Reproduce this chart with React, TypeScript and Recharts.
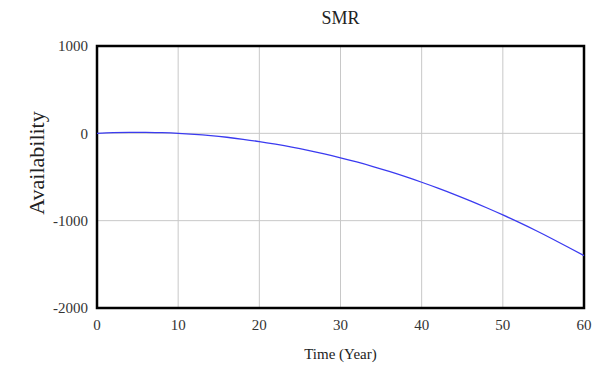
import { LineChart, Line, XAxis, YAxis, CartesianGrid, ReferenceArea } from "recharts";

const years = [0, 2, 4, 6, 8, 10, 12, 14, 16, 18, 20, 22, 24, 26, 28, 30, 32, 34, 36, 38, 40, 42, 44, 46, 48, 50, 52, 54, 56, 58, 60];
const availability = [0, 8, 11, 11, 7, 0, -11, -26, -45, -68, -94, -124, -157, -194, -235, -280, -328, -380, -436, -496, -560, -627, -698, -773, -852, -934, -1020, -1110, -1204, -1301, -1400];
const xTicks = [0, 10, 20, 30, 40, 50, 60];
const yTicks = [-2000, -1000, 0, 1000];

const data = years.map((t, i) => ({ t, v: availability[i] }));

const serif = "'Liberation Serif', 'Times New Roman', serif";

export default function App() {
  return (
    <div style={{ position: "absolute", left: 0, top: 0, width: 601, height: 368, background: "#fff", fontFamily: serif }}>
      <div style={{ position: "absolute", top: 8, left: 0, width: 601, paddingLeft: 80, boxSizing: "border-box", textAlign: "center", fontSize: 18, color: "#222" }}>
        SMR
      </div>
      <div
        style={{
          position: "absolute",
          left: 37,
          top: 163,
          transform: "translate(-50%, -50%) rotate(-90deg)",
          fontSize: 22,
          color: "#222",
          whiteSpace: "nowrap",
        }}
      >
        Availability
      </div>
      <div style={{ position: "absolute", top: 346, left: 0, width: 601, paddingLeft: 80, boxSizing: "border-box", textAlign: "center", fontSize: 15, color: "#222" }}>
        Time (Year)
      </div>
      <LineChart width={601} height={368} data={data} margin={{ top: 46, right: 17, bottom: 30, left: 0 }}>
        <CartesianGrid stroke="#c8c8c8" strokeWidth={1} />
        <XAxis
          dataKey="t"
          type="number"
          domain={[0, 60]}
          ticks={xTicks}
          tickLine={false}
          axisLine={false}
          height={30}
          tick={{ fill: "#333", fontSize: 15, fontFamily: serif }}
          tickMargin={5}
        />
        <YAxis
          type="number"
          domain={[-2000, 1000]}
          ticks={yTicks}
          tickLine={false}
          axisLine={false}
          width={97}
          tick={{ fill: "#333", fontSize: 15, fontFamily: serif }}
          tickMargin={3}
        />
        <ReferenceArea x1={0} x2={60} y1={-2000} y2={1000} fill="none" stroke="#000" strokeWidth={2.5} ifOverflow="visible" />
        <Line type="monotone" dataKey="v" stroke="#3b3bf0" strokeWidth={1.3} dot={false} isAnimationActive={false} />
      </LineChart>
    </div>
  );
}
